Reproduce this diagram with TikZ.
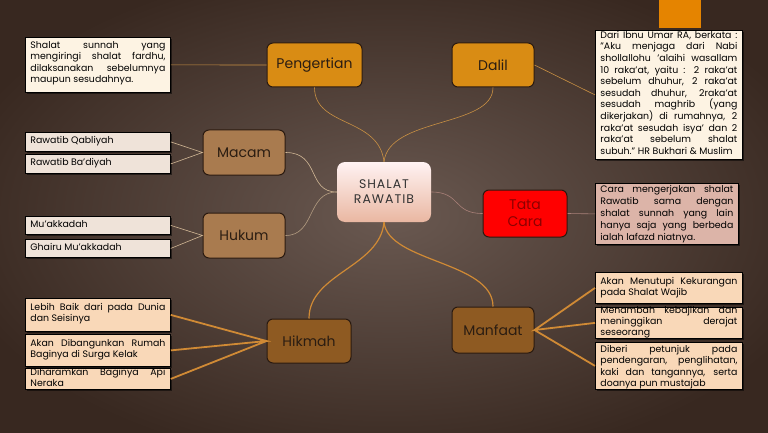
\documentclass[tikz,border=0pt]{standalone}
\usepackage{fontspec}
\setmainfont{Poppins}
\usetikzlibrary{shadows}
\definecolor{latdalam}{HTML}{6A5951}
\definecolor{latluar}{HTML}{382820}
\definecolor{tepi}{HTML}{2A1A10}
\definecolor{teks}{HTML}{2B1D12}
\definecolor{jingga}{HTML}{D98C14}
\definecolor{coklatmuda}{HTML}{A97B4F}
\definecolor{coklat}{HTML}{8E5A22}
\definecolor{krem}{HTML}{FDF3E3}
\definecolor{gading}{HTML}{EFE3D9}
\definecolor{persik}{HTML}{F9D8B8}
\definecolor{merahmuda}{HTML}{DCB4A8}
\definecolor{garisjingga}{HTML}{C99043}
\definecolor{garistebal}{HTML}{D08A35}
\definecolor{garisbeige}{HTML}{D2B896}
\definecolor{garismerah}{HTML}{A88078}
\begin{document}
\begin{tikzpicture}[x=1pt,y=-1pt,
    induk/.style={draw=tepi,line width=1pt,rounded corners=6pt,align=center,
      font=\fontsize{14}{15}\selectfont,text=teks},
    kotak/.style={draw=black,line width=.8pt,anchor=north west,align=justify,
      inner xsep=5pt,inner ysep=2pt,text height=9pt,
      drop shadow={shadow xshift=1.2pt,shadow yshift=-1.2pt,opacity=.5,fill=black},
      font=\fontsize{9.4}{11.5}\selectfont,text=black},
    kiri/.style={kotak,text width=135pt},
    kanan/.style={kotak,text width=137pt},
    tipis/.style={line width=.6pt},
    tebal/.style={line width=1.8pt,garistebal}]
% ------ latar ----------------
\useasboundingbox (0,0) rectangle (768,433);
\shade[inner color=latdalam,outer color=latluar] (-60,-40) rectangle (840,470);
\fill[orange!85!yellow!90!black] (659,0) rectangle (701,28);
% ------ pusat dan cabang ----------------
\node[draw=none,rounded corners=8pt,top color=pink!20!white,bottom color=red!25!brown!45!white,
  minimum width=94pt,minimum height=60pt,align=center,text=black!80,
  font=\fontsize{12.5}{15}\selectfont\addfontfeatures{LetterSpace=8}] (pusat) at (384,192) {SHALAT\\RAWATIB};
\node[induk,fill=jingga,minimum width=95pt,minimum height=44pt] (peng) at (314.5,65) {Pengertian};
\node[induk,fill=jingga,minimum width=82pt,minimum height=44pt] (dalil) at (493,65) {Dalil};
\node[induk,fill=coklatmuda,minimum width=82pt,minimum height=45pt] (macam) at (244,152.5) {Macam};
\node[induk,fill=coklatmuda,minimum width=82pt,minimum height=45pt] (hukum) at (244,235.5) {Hukum};
\node[induk,fill=red,text=red!55!black,minimum width=84pt,minimum height=47pt,
  font=\fontsize{14}{17}\selectfont] (tata) at (525,213.5) {Tata\\Cara};
\node[induk,fill=coklat,minimum width=84pt,minimum height=44pt] (hikmah) at (309,341) {Hikmah};
\node[induk,fill=coklat,minimum width=82pt,minimum height=46pt] (manfaat) at (493,330) {Manfaat};
% ------ kotak keterangan ----------------
\node[kiri,fill=krem,text depth=42pt] (kpeng) at (25,37)
  {Shalat sunnah yang\linebreak mengiringi shalat fardhu,\linebreak dilaksanakan sebelumnya\linebreak maupun sesudahnya.};
\node[kiri,fill=gading,text depth=6pt] (m1) at (25,132) {Rawatib Qabliyah};
\node[kiri,fill=gading,text depth=6pt] (m2) at (25,154) {Rawatib Ba'diyah};
\node[kiri,fill=gading,text depth=5pt] (u1) at (25,216) {Mu'akkadah};
\node[kiri,fill=gading,text depth=5pt] (u2) at (25,239) {Ghairu Mu'akkadah};
\node[kiri,fill=persik,text height=10pt,text depth=19pt,font=\fontsize{9.4}{11}\selectfont] (h1) at (25,298)
  {Lebih Baik dari pada Dunia\linebreak dan Seisinya};
\node[kiri,fill=persik,text height=10pt,text depth=18pt,font=\fontsize{9.4}{11}\selectfont] (h2) at (25,334)
  {Akan Dibangunkan Rumah\linebreak Baginya di Surga Kelak};
\node[kiri,fill=persik,text height=5pt,text depth=12pt,font=\fontsize{9.4}{11}\selectfont] (h3) at (25,368)
  {Diharamkan Baginya Api\linebreak Neraka};
\node[kanan,fill=krem,text height=6pt,text depth=119pt,font=\fontsize{9.4}{11.6}\selectfont] (kdalil) at (595,30)
  {Dari Ibnu Umar RA, berkata :\linebreak "Aku menjaga dari Nabi\linebreak shollallohu 'alaihi wasallam\linebreak
   10 raka'at, yaitu : 2 raka'at\linebreak sebelum dhuhur, 2 raka'at\linebreak sesudah dhuhur, 2raka'at\linebreak
   sesudah maghrib (yang\linebreak dikerjakan) di rumahnya, 2\linebreak raka'at sesudah isya' dan 2\linebreak
   raka'at sebelum shalat\linebreak subuh." HR Bukhari \& Muslim};
\node[kotak,text width=133pt,fill=merahmuda,text height=7pt,text depth=50pt,font=\fontsize{9.4}{12}\selectfont] (ktata) at (595,183)
  {Cara mengerjakan shalat\linebreak Rawatib sama dengan\linebreak shalat sunnah yang lain\linebreak
   hanya saja yang berbeda\linebreak ialah lafazd niatnya.};
\node[kanan,fill=persik,text height=10pt,text depth=17pt,font=\fontsize{9.4}{11}\selectfont] (f1) at (595,272)
  {Akan Menutupi Kekurangan\linebreak pada Shalat Wajib};
\node[kanan,fill=persik,text height=4pt,text depth=23pt,font=\fontsize{9.4}{11}\selectfont] (f2) at (595,307)
  {Menambah kebajikan dan\linebreak meninggikan derajat\linebreak seseorang};
\node[kanan,fill=persik,text height=8pt,text depth=35pt,font=\fontsize{9.4}{11.3}\selectfont] (f3) at (595,342)
  {Diberi petunjuk pada\linebreak pendengaran, penglihatan,\linebreak kaki dan tangannya, serta\linebreak doanya pun mustajab};
% ------ garis lengkung ----------------
\draw[tipis,garisjingga] (pusat.north) .. controls +(-5,-45) and +(0,40) .. (peng.south);
\draw[tipis,garisjingga] (pusat.north) .. controls +(5,-45) and +(0,40) .. (dalil.south);
\draw[tipis,garisbeige] (macam.east) .. controls +(35,0) and +(-30,0) .. (pusat.west);
\draw[tipis,garisbeige!70!latdalam] (hukum.east) .. controls +(30,0) and +(-30,0) .. (pusat.west);
\draw[tipis,garismerah] (pusat.east) .. controls +(30,0) and +(-30,0) .. (tata.west);
\draw[line width=1.2pt,garistebal] (pusat.south) .. controls +(-4,45) and +(0,-45) .. (hikmah.north);
\draw[line width=1.2pt,garistebal] (pusat.south) .. controls +(4,40) and +(0,-45) .. (manfaat.north);
% ------ garis lurus ----------------
\draw[tipis,garisjingga] (peng.west) -- (kpeng.east);
\draw[tipis,garisjingga] (dalil.east) -- (kdalil.west);
\draw[tipis,garisbeige] (m1.east) -- (macam.west) -- (m2.east);
\draw[tipis,garisbeige] (u1.east) -- (hukum.west) -- (u2.east);
\draw[tipis,garismerah] (tata.east) -- (ktata.west);
\draw[tebal] (h1.east) -- (hikmah.west) -- (h2.east) (hikmah.west) -- (h3.east);
\draw[tebal] (f1.west) -- (manfaat.east) -- (f2.west) (manfaat.east) -- (f3.west);
\end{tikzpicture}
\end{document}
